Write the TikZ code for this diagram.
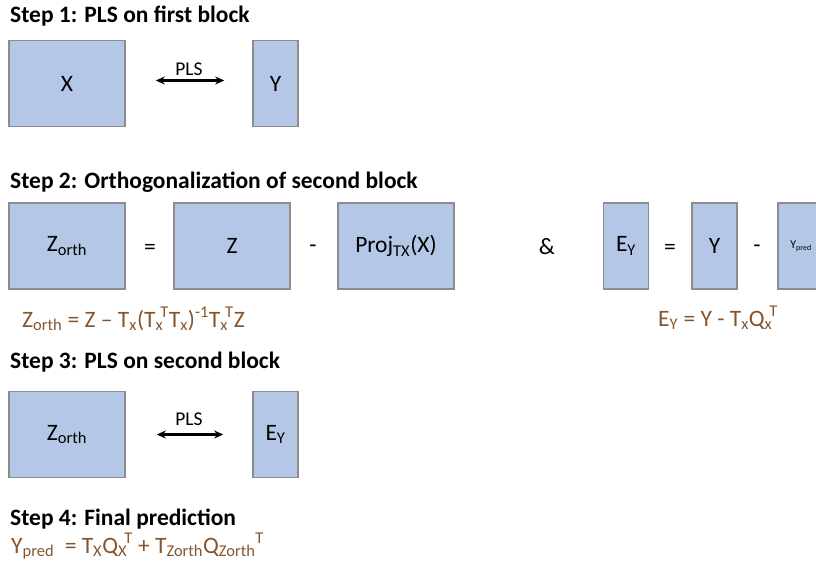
\documentclass[tikz,border=0pt]{standalone}
\usepackage{fontspec}
\setmainfont{Carlito}
\usetikzlibrary{arrows.meta}
\definecolor{boxfill}{HTML}{B4C7E7}
\definecolor{boxline}{HTML}{8C8C8C}
\definecolor{formula}{HTML}{85552C}
\newcommand\SbSp[2]{\textsubscript{#1}\kern-0.12em\textsuperscript{#2}}
\begin{document}
\begin{tikzpicture}[x=1pt,y=-1pt,
  blk/.style={draw=boxline, fill=boxfill, line width=1.6pt, inner sep=0pt, font=\fontsize{23.5}{27}\selectfont},
  wide/.style={blk, minimum width=116pt, minimum height=86pt},
  narrow/.style={blk, minimum width=45pt, minimum height=86pt},
  ttl/.style={anchor=base west, inner sep=0pt, font=\fontsize{23.5}{28}\selectfont\bfseries},
  frm/.style={anchor=base west, inner sep=0pt, text=formula, font=\fontsize{23.5}{27}\selectfont},
  op/.style={inner sep=0pt, font=\fontsize{23.5}{27}\selectfont},
  plsarrow/.style={{Stealth[length=9pt,width=8pt]}-{Stealth[length=9pt,width=8pt]}, line width=2.5pt},
  plslbl/.style={inner sep=0pt, anchor=base, font=\fontsize{19.5}{22}\selectfont}
]
\useasboundingbox (0,0) rectangle (816,586);
\clip (0,0) rectangle (816,586);
% Step 1
\node[ttl] (t1) at (10,23) {Step 1: PLS on first block};
\node[wide] (X) at (67,83.5) {X};
\node[narrow] (Y1) at (275.5,83.5) {Y};
\draw[plsarrow, shorten <=30pt, shorten >=28pt] ([yshift=3pt]X.east) -- ([yshift=3pt]Y1.west);
\node[plslbl] (pls1) at (189,75) {PLS};
% Step 2
\node[ttl] (t2) at (10,188) {Step 2: Orthogonalization of second block};
\node[wide] (Zo) at (67,246) {Z\textsubscript{orth}};
\node[op] (eq1) at (150,249) {=};
\node[wide] (Z) at (232,246) {Z};
\node[op] (mi1) at (313,249) {-};
\node[wide] (P) at (396,246) {Proj\textsubscript{TX}(X)};
\node[op] (amp) at (547,247) {\&};
\node[narrow] (EY) at (626,246) {E\textsubscript{Y}};
\node[op] (eq2) at (670,249) {=};
\node[narrow] (Y2) at (714.5,246) {Y};
\node[op] (mi2) at (757,249) {-};
\node[blk, minimum width=46pt, minimum height=86pt, font=\fontsize{12}{14}\selectfont] (Yp) at (801,246) {Y\textsubscript{pred}};
\node[frm] (f1) at (22,327) {Z\textsubscript{orth} = Z -- T\textsubscript{x}(T\SbSp{x}{T}T\textsubscript{x})\textsuperscript{-1}T\SbSp{x}{T}Z};
\node[frm] (f2) at (658,326) {E\textsubscript{Y} = Y - T\textsubscript{x}Q\SbSp{x}{T}};
% Step 3
\node[ttl] (t3) at (10,368) {Step 3: PLS on second block};
\node[wide] (Zo3) at (67,434.5) {Z\textsubscript{orth}};
\node[narrow] (EY3) at (275.5,434.5) {E\textsubscript{Y}};
\draw[plsarrow, shorten <=31pt, shorten >=29pt] (Zo3.east) -- (EY3.west);
\node[plslbl] (pls2) at (189,425) {PLS};
% Step 4
\node[ttl] (t4) at (10,525) {Step 4: Final prediction};
\node[frm] (f3) at (11,553) {Y\textsubscript{pred}\ \ = T\textsubscript{X}Q\SbSp{X}{T} + T\textsubscript{Zorth}Q\textsubscript{Zorth}\textsuperscript{T}};
\end{tikzpicture}
\end{document}
